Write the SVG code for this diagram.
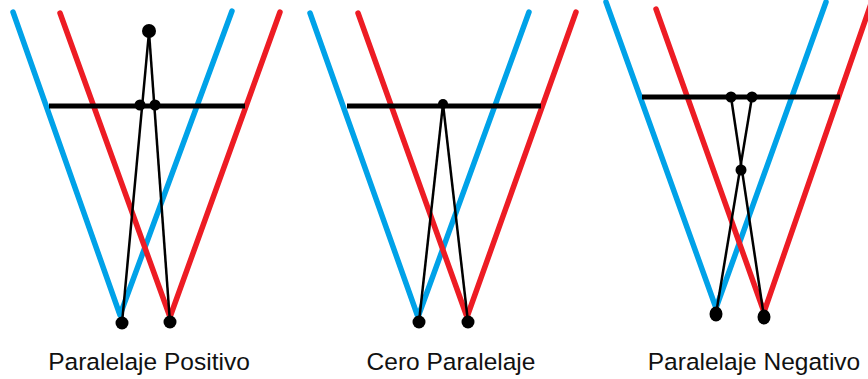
<svg xmlns="http://www.w3.org/2000/svg" width="868" height="379" viewBox="0 0 868 379">
  <style>
    .blue { stroke: #00A2E8; stroke-width: 5.5; fill: none; stroke-linecap: round; stroke-linejoin: round; }
    .red { stroke: #ED1C24; stroke-width: 5.5; fill: none; stroke-linecap: round; stroke-linejoin: round; }
    .screen { stroke: #000; stroke-width: 5; fill: none; }
    .ray { stroke: #000; stroke-width: 2.5; fill: none; }
    .dot { fill: #000; }
    .label { font-family: "Liberation Sans", Arial, sans-serif; font-size: 24.5px; fill: #111; text-anchor: middle; }
  </style>

  <!-- Positive parallax -->
  <g id="positivo">
    <polyline class="blue" points="13,12 120,315 232,11"/>
    <polyline class="red" points="60,13 170,317 280,12"/>
    <line class="screen" x1="49" y1="106" x2="245" y2="106"/>
    <g id="positivo-rays">
      <line class="ray" x1="122" y1="323" x2="149" y2="32"/>
      <line class="ray" x1="170" y1="323" x2="149" y2="32"/>
    </g>
    <circle class="dot" cx="149" cy="31" r="7"/>
    <circle class="dot" cx="140" cy="105" r="5.5"/>
    <circle class="dot" cx="155" cy="105" r="5.5"/>
    <circle class="dot" cx="122" cy="323" r="6.5"/>
    <circle class="dot" cx="170" cy="322" r="6.5"/>
    <text class="label" x="149" y="370">Paralelaje Positivo</text>
  </g>

  <!-- Zero parallax -->
  <g id="cero">
    <polyline class="blue" points="310,13 418,317 529,12"/>
    <polyline class="red" points="358,13 467,317 576,12"/>
    <line class="screen" x1="347" y1="106" x2="541" y2="106"/>
    <g id="cero-rays">
      <line class="ray" x1="419" y1="322" x2="443" y2="104"/>
      <line class="ray" x1="468" y1="322" x2="443" y2="104"/>
    </g>
    <circle class="dot" cx="443" cy="104" r="5"/>
    <circle class="dot" cx="419" cy="322" r="6.5"/>
    <circle class="dot" cx="468" cy="322" r="6.5"/>
    <text class="label" x="451" y="370">Cero Paralelaje</text>
  </g>

  <!-- Negative parallax -->
  <g id="negativo">
    <polyline class="blue" points="606,2 716,308 826,2"/>
    <polyline class="red" points="656,9 764,312 873,-2"/>
    <line class="screen" x1="642" y1="97" x2="840" y2="97"/>
    <g id="negativo-rays">
      <line class="ray" x1="716" y1="314" x2="752" y2="97"/>
      <line class="ray" x1="764" y1="317" x2="731" y2="97"/>
    </g>
    <circle class="dot" cx="731" cy="97" r="5.5"/>
    <circle class="dot" cx="752" cy="97" r="5.5"/>
    <circle class="dot" cx="741" cy="170" r="5.5"/>
    <ellipse class="dot" cx="716" cy="314" rx="6.5" ry="7.5"/>
    <ellipse class="dot" cx="764" cy="317" rx="6.5" ry="7.5"/>
    <text class="label" x="754" y="370">Paralelaje Negativo</text>
  </g>
</svg>
